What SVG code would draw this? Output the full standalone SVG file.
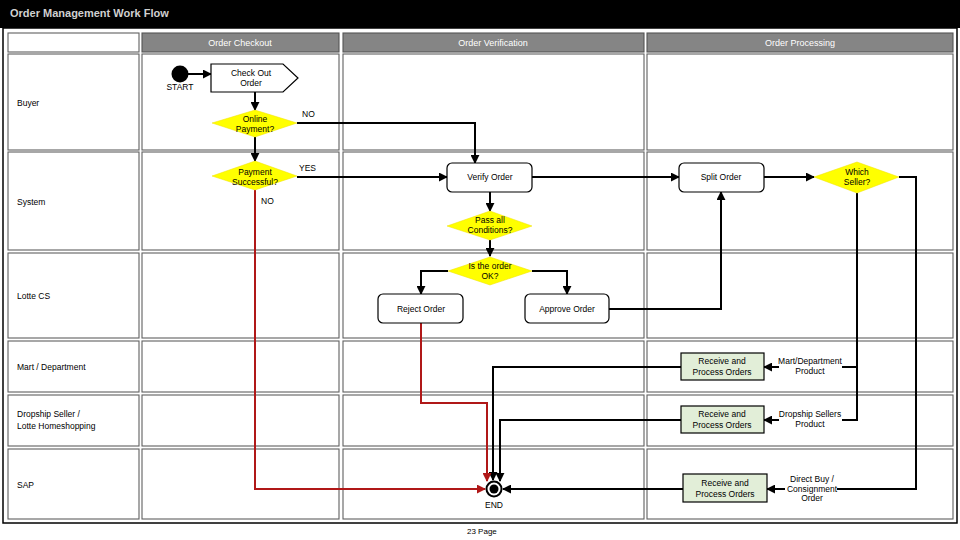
<svg xmlns="http://www.w3.org/2000/svg" width="960" height="540" viewBox="0 0 960 540">
<defs>
<style>
text{font-family:"Liberation Sans",Arial,sans-serif;font-size:8.5px;fill:#000}
.cell{fill:#fff;stroke:#606060;stroke-width:1.1}
.hdr{fill:#858585;stroke:#555;stroke-width:1.1}
.ht{fill:#fff;font-size:9px;text-anchor:middle}
.lane{font-size:8.5px}
.c{text-anchor:middle}
.box{fill:#fff;stroke:#000;stroke-width:1.2}
.gbox{fill:#e2eed8;stroke:#000;stroke-width:1.2}
.dia{fill:#ffff00;stroke:#f0e000;stroke-width:0.5}
.ln{fill:none;stroke:#000;stroke-width:2}
.rd{fill:none;stroke:#b01818;stroke-width:2}
.lbg{fill:#fff}
</style>
<marker id="ah" viewBox="0 0 10 10" refX="9" refY="5" markerWidth="9" markerHeight="9" markerUnits="userSpaceOnUse" orient="auto"><path d="M0,0 L10,5 L0,10 z" fill="#000"/></marker>
<marker id="ahr" viewBox="0 0 10 10" refX="9" refY="5" markerWidth="9" markerHeight="9" markerUnits="userSpaceOnUse" orient="auto"><path d="M0,0 L10,5 L0,10 z" fill="#b01818"/></marker>
</defs>
<rect width="960" height="540" fill="#fff"/>
<rect x="0" y="0" width="960" height="28" fill="#000"/>
<text x="10" y="17" style="font-size:11px;font-weight:bold;fill:#d0d0d0">Order Management Work Flow</text>
<rect x="3" y="28" width="954" height="495" fill="#fff" stroke="#000" stroke-width="1.5"/>

<g id="grid">
<rect class="cell" x="8" y="33" width="131" height="19"/>
<rect class="hdr" x="142" y="33" width="197" height="19"/>
<rect class="hdr" x="343" y="33" width="301" height="19"/>
<rect class="hdr" x="647" y="33" width="306" height="19"/>
<text class="ht" x="240" y="46">Order Checkout</text>
<text class="ht" x="493" y="46">Order Verification</text>
<text class="ht" x="800" y="46">Order Processing</text>

<rect class="cell" x="8" y="54" width="131" height="96"/>
<rect class="cell" x="142" y="54" width="197" height="96"/>
<rect class="cell" x="343" y="54" width="301" height="96"/>
<rect class="cell" x="647" y="54" width="306" height="96"/>

<rect class="cell" x="8" y="152" width="131" height="98"/>
<rect class="cell" x="142" y="152" width="197" height="98"/>
<rect class="cell" x="343" y="152" width="301" height="98"/>
<rect class="cell" x="647" y="152" width="306" height="98"/>

<rect class="cell" x="8" y="253" width="131" height="85"/>
<rect class="cell" x="142" y="253" width="197" height="85"/>
<rect class="cell" x="343" y="253" width="301" height="85"/>
<rect class="cell" x="647" y="253" width="306" height="85"/>

<rect class="cell" x="8" y="341" width="131" height="51"/>
<rect class="cell" x="142" y="341" width="197" height="51"/>
<rect class="cell" x="343" y="341" width="301" height="51"/>
<rect class="cell" x="647" y="341" width="306" height="51"/>

<rect class="cell" x="8" y="395" width="131" height="51"/>
<rect class="cell" x="142" y="395" width="197" height="51"/>
<rect class="cell" x="343" y="395" width="301" height="51"/>
<rect class="cell" x="647" y="395" width="306" height="51"/>

<rect class="cell" x="8" y="449" width="131" height="70"/>
<rect class="cell" x="142" y="449" width="197" height="70"/>
<rect class="cell" x="343" y="449" width="301" height="70"/>
<rect class="cell" x="647" y="449" width="306" height="70"/>

<text class="lane" x="17" y="106">Buyer</text>
<text class="lane" x="17" y="205">System</text>
<text class="lane" x="17" y="299">Lotte CS</text>
<text class="lane" x="17" y="370">Mart / Department</text>
<text class="lane" x="17" y="417">Dropship Seller /</text>
<text class="lane" x="17" y="429">Lotte Homeshopping</text>
<text class="lane" x="17" y="488">SAP</text>
</g>

<g id="connectors">
<path class="ln" d="M188,74 H211" marker-end="url(#ah)"/>
<path class="ln" d="M255,92 V110" marker-end="url(#ah)"/>
<path class="ln" d="M255,137 V161" marker-end="url(#ah)"/>
<path class="ln" d="M297,123 H475 V163" marker-end="url(#ah)"/>
<path class="ln" d="M297,177 H447" marker-end="url(#ah)"/>
<path class="ln" d="M490,192 V211" marker-end="url(#ah)"/>
<path class="ln" d="M490,240 V256" marker-end="url(#ah)"/>
<path class="ln" d="M448,271 H421 V294" marker-end="url(#ah)"/>
<path class="ln" d="M532,271 H567 V294" marker-end="url(#ah)"/>
<path class="ln" d="M609,309 H721 V192" marker-end="url(#ah)"/>
<path class="ln" d="M532,177 H679" marker-end="url(#ah)"/>
<path class="ln" d="M764,177 H814" marker-end="url(#ah)"/>
<path class="ln" d="M857,193 V367 H764" marker-end="url(#ah)"/>
<path class="ln" d="M857,367 V420 H764" marker-end="url(#ah)"/>
<path class="ln" d="M899,177 H916 V489 H767" marker-end="url(#ah)"/>
<path class="ln" d="M681,367 H493 V480" marker-end="url(#ah)"/>
<path class="ln" d="M681,420 H500 V481" marker-end="url(#ah)"/>
<path class="rd" d="M421,323 V403 H487 V481" marker-end="url(#ahr)"/>
<path class="rd" d="M255,190 V489 H485" marker-end="url(#ahr)"/>
<path class="ln" d="M683,489 H503" marker-end="url(#ah)"/>
<text x="302" y="117">NO</text>
<text x="299" y="171">YES</text>
<text x="261" y="204">NO</text>
<rect class="lbg" x="779" y="356" width="63" height="20"/>
<text class="c" x="810" y="364">Mart/Department</text>
<text class="c" x="810" y="374">Product</text>
<rect class="lbg" x="779" y="409" width="63" height="20"/>
<text class="c" x="810" y="417">Dropship Sellers</text>
<text class="c" x="810" y="427">Product</text>
<rect class="lbg" x="789" y="475" width="48" height="7"/>
<rect class="lbg" x="785" y="484" width="52" height="6"/>
<text class="c" x="812" y="482">Direct Buy /</text>
<text class="c" x="812" y="492">Consignment</text>
<text class="c" x="812" y="501">Order</text>
</g>

<g id="start">
<circle cx="180" cy="74" r="8.5" fill="#000"/>
<text class="c" x="180" y="90">START</text>
</g>
<g id="checkout">
<path class="box" d="M211,64 H283 L298,78 L283,92 H211 Z"/>
<text class="c" x="251" y="76">Check Out</text>
<text class="c" x="251" y="86">Order</text>
</g>
<g id="online">
<path class="dia" d="M212,123 L255,110 L297,123 L255,137 Z"/>
<text class="c" x="255" y="122">Online</text>
<text class="c" x="255" y="132">Payment?</text>
</g>
<g id="paysucc">
<path class="dia" d="M212,176 L255,161 L297,176 L255,190 Z"/>
<text class="c" x="255" y="175">Payment</text>
<text class="c" x="255" y="185">Successful?</text>
</g>
<g id="verify">
<rect class="box" x="447" y="163" width="85" height="29" rx="5"/>
<text class="c" x="490" y="180">Verify Order</text>
</g>
<g id="passall">
<path class="dia" d="M447,226 L490,211 L532,226 L490,240 Z"/>
<text class="c" x="490" y="223">Pass all</text>
<text class="c" x="490" y="233">Conditions?</text>
</g>
<g id="isok">
<path class="dia" d="M448,271 L490,257 L532,271 L490,285 Z"/>
<text class="c" x="490" y="269">Is the order</text>
<text class="c" x="490" y="279">OK?</text>
</g>
<g id="reject">
<rect class="box" x="378" y="294" width="85" height="29" rx="5"/>
<text class="c" x="421" y="312">Reject Order</text>
</g>
<g id="approve">
<rect class="box" x="525" y="294" width="84" height="29" rx="5"/>
<text class="c" x="567" y="312">Approve Order</text>
</g>
<g id="split">
<rect class="box" x="679" y="163" width="85" height="29" rx="5"/>
<text class="c" x="721" y="180">Split Order</text>
</g>
<g id="which">
<path class="dia" d="M814,177 L857,162 L899,177 L857,193 Z"/>
<text class="c" x="857" y="175">Which</text>
<text class="c" x="857" y="185">Seller?</text>
</g>
<g id="mart">
<rect class="gbox" x="681" y="353" width="83" height="27"/>
<text class="c" x="722" y="364">Receive and</text>
<text class="c" x="722" y="375">Process Orders</text>
</g>
<g id="dropship">
<rect class="gbox" x="681" y="406" width="83" height="27"/>
<text class="c" x="722" y="417">Receive and</text>
<text class="c" x="722" y="428">Process Orders</text>
</g>
<g id="sap">
<rect class="gbox" x="683" y="474" width="84" height="28"/>
<text class="c" x="725" y="486">Receive and</text>
<text class="c" x="725" y="497">Process Orders</text>
</g>
<g id="end">
<circle cx="494" cy="489" r="7.5" fill="#fff" stroke="#000" stroke-width="2"/>
<circle cx="494" cy="489" r="4.5" fill="#000"/>
<text class="c" x="494" y="508">END</text>
</g>
<text x="467" y="534" style="font-size:8px">23  Page</text>
</svg>
